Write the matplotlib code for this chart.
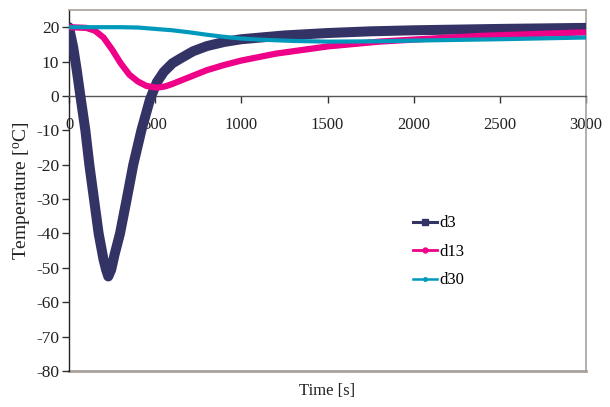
import matplotlib
matplotlib.use("Agg")
import matplotlib.pyplot as plt
from matplotlib.lines import Line2D

plt.rcParams['font.family'] = ['Liberation Serif', 'DejaVu Serif']
plt.rcParams['mathtext.fontset'] = 'custom'
plt.rcParams['mathtext.rm'] = 'Liberation Serif'
plt.rcParams['mathtext.it'] = 'Liberation Serif:italic'

# Data
t_d3 = [0, 25, 45, 66, 95, 118, 145, 172, 200, 215, 228, 245, 265, 296, 335, 373, 420, 470,
        510, 550, 600, 650, 720, 800, 900, 1000, 1250, 1500, 1750, 2000, 2500, 3000]
d3 = [20, 14, 7.5, 0, -10, -20, -30, -40, -47.5, -50.5, -52.5, -50.5, -46, -40, -30, -20, -10, -1,
      4, 7, 9.5, 11, 13, 14.5, 15.7, 16.5, 17.6, 18.3, 18.8, 19.1, 19.5, 19.8]

t_d13 = [0, 100, 150, 200, 250, 300, 350, 400, 450, 510, 560, 600, 700, 800, 900, 1000,
         1200, 1500, 1800, 2000, 2400, 3000]
d13 = [20, 19.8, 19, 17, 13.5, 9.5, 6.2, 4.2, 2.9, 2.4, 2.8, 3.5, 5.5, 7.5, 9, 10.3,
       12.3, 14.4, 15.8, 16.4, 17.5, 18.5]

t_d30 = [0, 300, 400, 500, 600, 700, 800, 900, 1000, 1100, 1300, 1500, 1800, 2000, 2500, 3000]
d30 = [20, 20, 19.9, 19.5, 19.1, 18.5, 17.8, 17.2, 16.7, 16.4, 16.0, 15.8, 15.9, 16.1, 16.5, 17.0]

labels = ['d3', 'd13', 'd30']
colors = ['#333366', '#ee0088', '#0099bb']
widths = [7.2, 4.5, 3.0]
xticks = [0, 500, 1000, 1500, 2000, 2500, 3000]
yticks = [-80, -70, -60, -50, -40, -30, -20, -10, 0, 10, 20]

fig = plt.figure(figsize=(6.1, 4.07), dpi=100)
ax = fig.add_axes([69/610, 36/407, 517/610, 361/407])

series = [(t_d3, d3), (t_d13, d13), (t_d30, d30)]
for (tx, ty), c, w in zip(series, colors, widths):
    ax.plot(tx, ty, color=c, lw=w, solid_joinstyle='round', solid_capstyle='round', zorder=3)

ax.set_xlim(0, 3000)
ax.set_ylim(-80, 25)
ax.set_xticks(xticks)
ax.set_yticks(yticks)
ax.set_xticklabels([str(v) for v in xticks])
ax.set_yticklabels([str(v) for v in yticks])

frame_col = '#a8a09a'
ax.spines['bottom'].set_position(('data', 0))
ax.spines['bottom'].set_color('#555555')
ax.spines['bottom'].set_linewidth(1.0)
ax.spines['left'].set_color('#222222')
ax.spines['left'].set_linewidth(1.0)
ax.spines['top'].set_color(frame_col)
ax.spines['right'].set_color(frame_col)
ax.spines['top'].set_linewidth(1.2)
ax.spines['right'].set_linewidth(1.2)
ax.axhline(-80, color=frame_col, lw=2.0, clip_on=False, zorder=1)

ax.tick_params(axis='x', direction='out', length=5, width=1, color='#333333',
               labelsize=12, pad=10, labelcolor='#222222')
ax.tick_params(axis='y', direction='out', length=5, width=1, color='#333333',
               labelsize=12.5, pad=2, labelcolor='#222222')

fig.text(22.5/610, 1 - 191/407, 'Temperature [$^{\\rm o}$C]', rotation=90,
         ha='center', va='center', fontsize=14, color='#222222')
fig.text(327/610, 1 - 391/407, 'Time [s]', ha='center', va='center',
         fontsize=12, color='#222222')

markers = ['s', 'o', 'o']
msizes = [5, 3.5, 2.5]
lws = [2.2, 2.0, 1.8]
handles = [Line2D([], [], color=c, lw=lw, marker=m, markersize=ms)
           for c, lw, m, ms in zip(colors, lws, markers, msizes)]
ax.legend(handles, labels, loc='upper left', bbox_to_anchor=(405/610, 1 - 207/407),
          bbox_transform=fig.transFigure, frameon=False, fontsize=12,
          handlelength=1.4, handletextpad=0.15, labelspacing=0.75, borderpad=0)

fig.savefig('out.png', dpi=100)
